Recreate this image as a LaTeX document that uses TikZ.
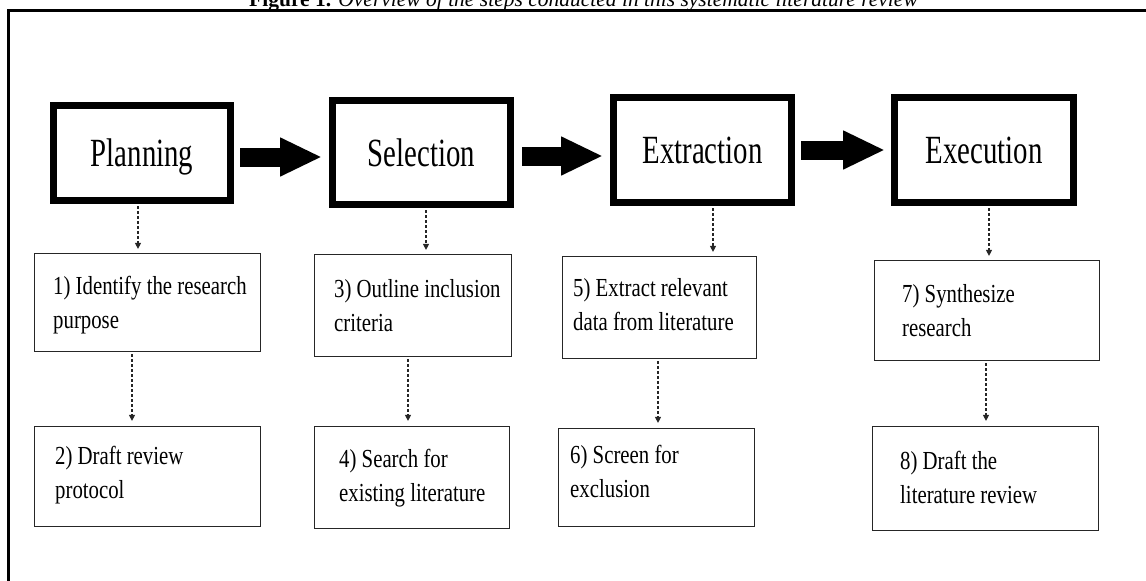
\documentclass[tikz,border=0pt]{standalone}
\usepackage{fontspec}
\setmainfont{Liberation Serif}
\newfontfamily\bigf[FakeStretch=0.72]{Liberation Serif}
\newfontfamily\smf[FakeStretch=0.8]{Liberation Serif}
\usetikzlibrary{arrows.meta}
\begin{document}
\begin{tikzpicture}[x=1pt,y=-1pt,
  phase/.style={draw=black, line width=7pt, inner sep=0pt,
    font=\bigf\fontsize{40}{40}\selectfont, text height=27pt, text depth=0pt},
  stepbox/.style={draw=black!85, line width=1.2pt, inner sep=0pt},
  steptext/.style={anchor=north west, align=left, inner sep=0pt,
    font=\smf\fontsize{26}{34}\selectfont},
  bigarrow/.style={line width=19pt, -{Triangle[length=42pt,width=36pt]}},
  dotarrow/.style={draw=black!85, line width=1.1pt, dash pattern=on 3pt off 2pt,
    -{Triangle[length=6pt,width=6pt]}}]
\useasboundingbox (0,0) rectangle (1146,581);
% frame
\draw[line width=2.7pt] (8.7,620) -- (8.7,10.5) -- (1170,10.5);
% caption
\node[anchor=base, inner sep=0pt, font=\fontsize{21.5}{21.5}\selectfont] (cap) at (583.5,6)
  {\textbf{Figure 1.} \textit{Overview of the steps conducted in this systematic literature review}};
% phases
\node[phase, minimum width=177pt, minimum height=95pt]  (plan) at (142,153)   {Planning};
\node[phase, minimum width=178pt, minimum height=104pt] (sel)  at (421.5,152.5) {Selection};
\node[phase, minimum width=178pt, minimum height=105pt] (ext)  at (702.5,150) {Extraction};
\node[phase, minimum width=179pt, minimum height=105pt] (exe)  at (984,150)   {Execution};
% big arrows
\draw[bigarrow, shorten <=6pt, shorten >=7pt] (plan.east |- 0,157) -- (sel.west |- 0,157);
\draw[bigarrow, shorten <=8pt, shorten >=7pt] (sel.east |- 0,156) -- (ext.west |- 0,156);
\draw[bigarrow, shorten <=6pt, shorten >=6pt] (ext.east |- 0,150) -- (exe.west |- 0,150);
% step boxes
\node[stepbox, minimum width=226pt, minimum height=98pt]  (b1) at (147.5,302.5) {};
\node[stepbox, minimum width=226pt, minimum height=100pt] (b2) at (147.5,476.5) {};
\node[stepbox, minimum width=197pt, minimum height=102pt] (b3) at (413,305.5) {};
\node[stepbox, minimum width=195pt, minimum height=102pt] (b4) at (412,477.5) {};
\node[stepbox, minimum width=194pt, minimum height=102pt] (b5) at (659.5,307.5) {};
\node[stepbox, minimum width=196pt, minimum height=98pt]  (b6) at (656.5,477.5) {};
\node[stepbox, minimum width=225pt, minimum height=100pt] (b7) at (987,310.5) {};
\node[stepbox, minimum width=226pt, minimum height=104pt] (b8) at (985.5,478.5) {};
% step texts (north west = baseline of first line - 18)
\node[steptext] (t1) at (53,276)  {1) Identify the research\\purpose};
\node[steptext] (t2) at (55,446)  {2) Draft review\\protocol};
\node[steptext] (t3) at (334,279) {3) Outline inclusion\\criteria};
\node[steptext] (t4) at (339,449) {4) Search for\\existing literature};
\node[steptext] (t5) at (573,278) {5) Extract relevant\\data from literature};
\node[steptext] (t6) at (570,445) {6) Screen for\\exclusion};
\node[steptext] (t7) at (902,284) {7) Synthesize\\research};
\node[steptext] (t8) at (900,451) {8) Draft the\\literature review};
% dotted arrows
\draw[dotarrow, shorten <=2pt, shorten >=4pt] (plan.south -| 138,0) -- (b1.north -| 138,0);
\draw[dotarrow, shorten <=2pt, shorten >=5pt] (b1.south -| 132,0) -- (b2.north -| 132,0);
\draw[dotarrow, shorten <=2pt, shorten >=4pt] (sel.south -| 426,0) -- (b3.north -| 426,0);
\draw[dotarrow, shorten <=2pt, shorten >=5pt] (b3.south -| 408,0) -- (b4.north -| 408,0);
\draw[dotarrow, shorten <=2pt, shorten >=4pt] (ext.south -| 713,0) -- (b5.north -| 713,0);
\draw[dotarrow, shorten <=2pt, shorten >=5pt] (b5.south -| 658,0) -- (b6.north -| 658,0);
\draw[dotarrow, shorten <=2pt, shorten >=4pt] (exe.south -| 989,0) -- (b7.north -| 989,0);
\draw[dotarrow, shorten <=2pt, shorten >=5pt] (b7.south -| 986,0) -- (b8.north -| 986,0);
\end{tikzpicture}
\end{document}
